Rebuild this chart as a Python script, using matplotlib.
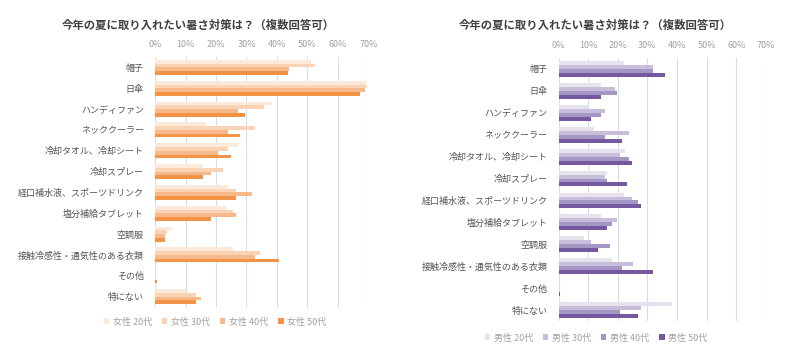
import numpy as np
import matplotlib
matplotlib.use("Agg")
import matplotlib.pyplot as plt
from matplotlib.ticker import FuncFormatter

plt.rcParams['font.family'] = ['Noto Sans CJK JP', 'DejaVu Sans']

title = "今年の夏に取り入れたい暑さ対策は？（複数回答可）"
categories = ["帽子", "日傘", "ハンディファン", "ネッククーラー", "冷却タオル、冷却シート",
              "冷却スプレー", "経口補水液、スポーツドリンク", "塩分補給タブレット", "空調服",
              "接触冷感性・通気性のある衣類", "その他", "特にない"]
ticks = [0, 10, 20, 30, 40, 50, 60, 70]

female_labels = ["女性 20代", "女性 30代", "女性 40代", "女性 50代"]
female_20 = [51.0, 69.3, 38.2, 16.7, 27.2, 15.9, 23.8, 23.3, 5.5, 25.5, 0.0, 10.0]
female_30 = [52.6, 69.4, 35.9, 32.9, 23.9, 22.4, 26.4, 25.5, 3.8, 34.3, 0.0, 13.3]
female_40 = [43.8, 68.8, 27.1, 23.9, 20.7, 18.3, 31.9, 26.4, 3.2, 32.8, 0.0, 15.2]
female_50 = [43.7, 67.1, 29.5, 27.9, 24.8, 15.9, 26.4, 18.3, 3.2, 40.7, 0.7, 13.3]

male_labels = ["男性 20代", "男性 30代", "男性 40代", "男性 50代"]
male_20 = [22.2, 14.3, 10.1, 11.9, 22.3, 16.5, 22.2, 14.3, 8.6, 18.2, 0.0, 38.3]
male_30 = [31.9, 19.0, 15.8, 23.8, 20.6, 15.8, 24.8, 19.9, 11.1, 25.3, 0.0, 27.8]
male_40 = [31.9, 19.9, 14.3, 15.8, 23.8, 16.5, 26.9, 18.2, 17.4, 21.5, 0.0, 20.6]
male_50 = [36.0, 14.3, 11.1, 21.5, 24.8, 23.1, 27.8, 16.5, 13.3, 31.9, 0.6, 26.9]

female_colors = ["#FDE9DA", "#FAD3B4", "#F7B98A", "#F29346"]
male_colors = ["#E6E3EC", "#C8BEDB", "#A597C3", "#7459A0"]

fig = plt.figure(figsize=(8, 3.61), dpi=100)


def panel(rect, series, labels, colors, title_xy, legend_xy):
    ax = fig.add_axes(rect)
    y = np.arange(len(categories))
    h = 0.18
    offsets = [-1.5 * h, -0.5 * h, 0.5 * h, 1.5 * h]
    for vals, lab, col, off in zip(series, labels, colors, offsets):
        ax.barh(y + off, vals, height=h, color=col, label=lab, zorder=3)
    ax.set_xlim(0, 70)
    ax.set_ylim(len(categories) - 0.5, -0.5)
    ax.set_xticks(ticks)
    ax.xaxis.set_major_formatter(FuncFormatter(lambda v, p: f"{int(v)}%"))
    ax.xaxis.tick_top()
    ax.tick_params(axis='x', length=0, labelsize=6.5, labelcolor="#A0A0A0", pad=6)
    ax.set_yticks(y)
    ax.set_yticklabels(categories)
    ax.tick_params(axis='y', length=0, labelsize=6.5, labelcolor="#555555", pad=8)
    ax.grid(axis='x', color="#D6DEE8", linewidth=0.8, zorder=0)
    for s in ax.spines.values():
        s.set_visible(False)
    fig.text(title_xy[0], title_xy[1], title, ha='center', va='center',
             fontsize=8.2, fontweight='bold', color="#404040")
    handles, labs = ax.get_legend_handles_labels()
    fig.legend(handles, labs, loc='center', bbox_to_anchor=legend_xy,
               ncol=4, frameon=False, fontsize=6.5, handlelength=0.6, handleheight=0.6,
               handletextpad=0.4, columnspacing=1.1, labelcolor="#A0A0A0")
    return ax


panel([155 / 800, 1 - 307 / 361, 213.5 / 800, 250 / 361],
      [female_20, female_30, female_40, female_50], female_labels, female_colors,
      (198 / 800, 1 - 25 / 361), (215 / 800, 1 - 322 / 361))
panel([558.5 / 800, 1 - 321 / 361, 207.5 / 800, 263 / 361],
      [male_20, male_30, male_40, male_50], male_labels, male_colors,
      (595 / 800, 1 - 25 / 361), (596 / 800, 1 - 338 / 361))

fig.savefig("out.png", dpi=100)
